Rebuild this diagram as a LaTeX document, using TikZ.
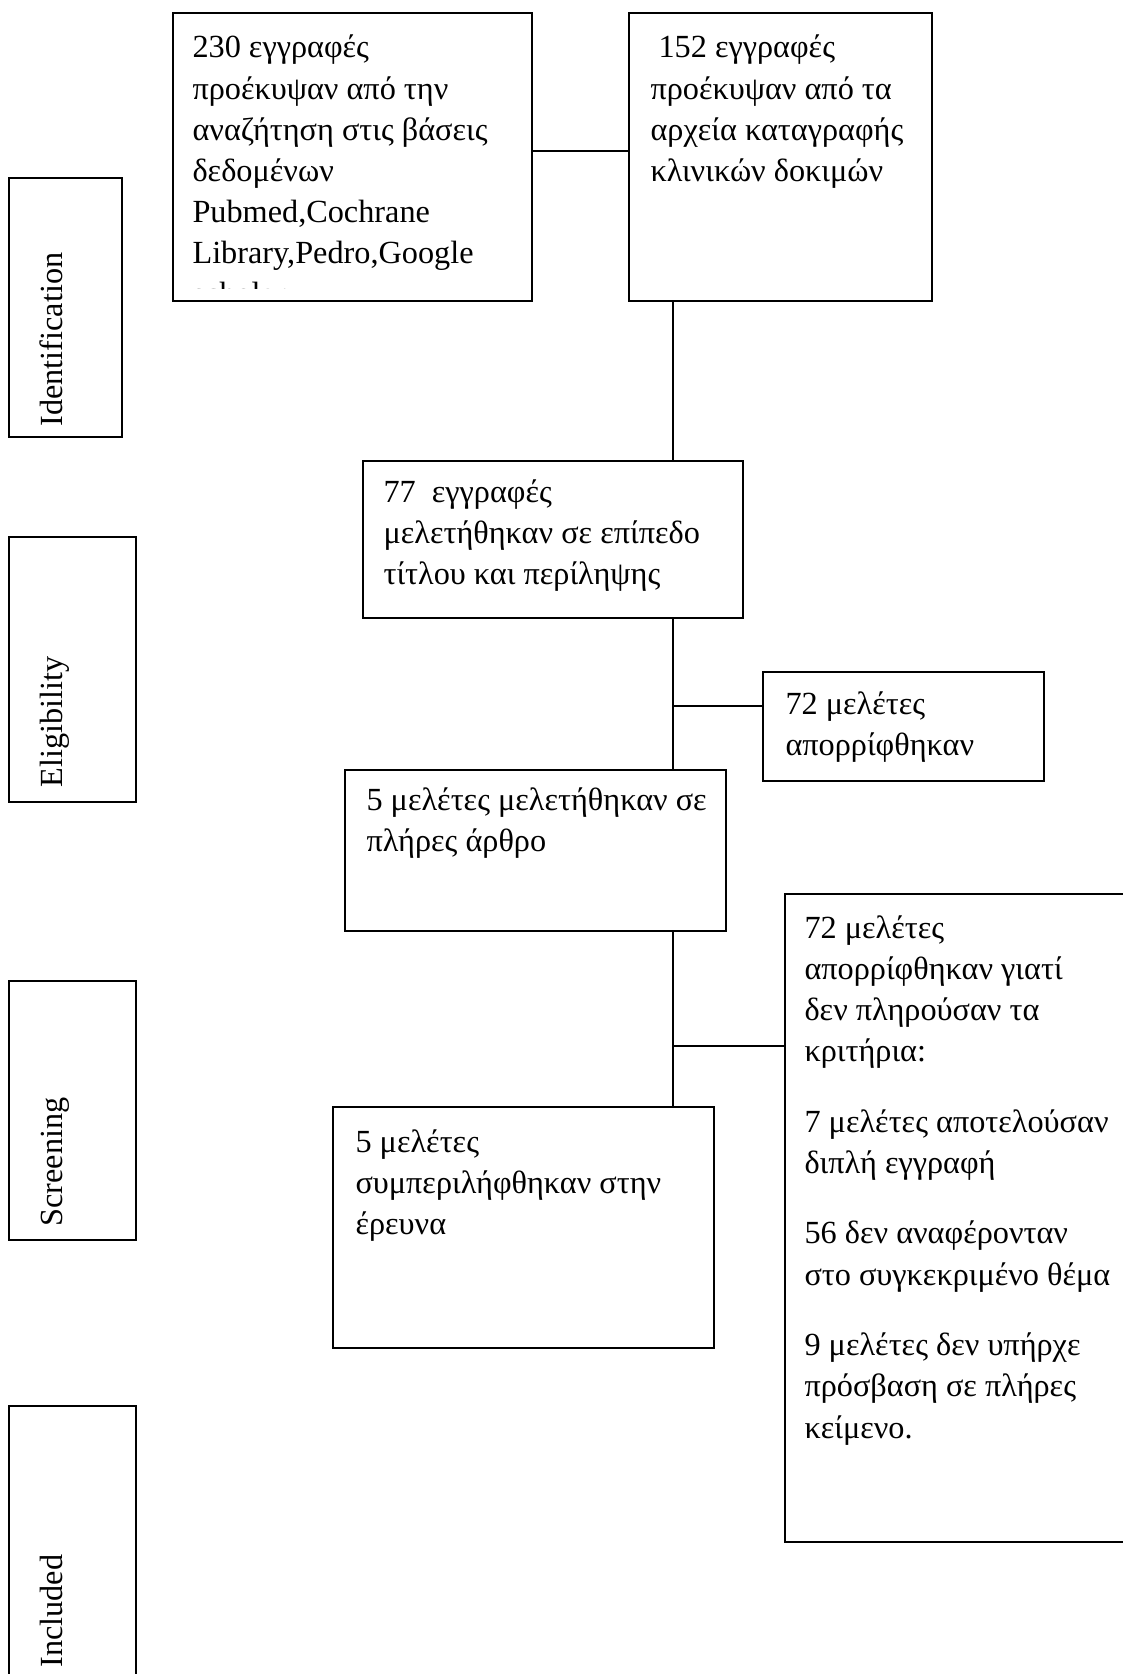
\documentclass[tikz,border=0pt]{standalone}
\usepackage{fontspec}
\setmainfont{Liberation Serif}
\usetikzlibrary{positioning,fit}

\newcommand{\rows}[1]{\begin{tabular}[t]{@{}l@{}}#1\end{tabular}}

\begin{document}
\begin{tikzpicture}[x=0.372pt, y=-0.372pt,
  box/.style={draw, line width=0.75pt, inner sep=0pt},
  stage/.style={draw, line width=1.1pt, inner sep=0pt},
  txt/.style={anchor=base west, inner sep=0pt, font=\fontsize{12pt}{15.3pt}\selectfont},
  tag/.style={anchor=base west, inner sep=0pt, rotate=90, font=\fontsize{12pt}{15pt}\selectfont},
  link/.style={line width=0.75pt}]
\useasboundingbox (0,0) rectangle (1122,1674);

% stages on the left
\node[stage, fit={(9,178) (122,437)}] (ident) {};
\node[stage, fit={(9,537) (136,802)}] (elig) {};
\node[stage, fit={(9,981) (136,1240)}] (screen) {};
\node[stage, fit={(9,1406) (136,1690)}] (incl) {};
\node[tag] (identtxt) at (62,427) {Identification};
\node[tag] (eligtxt) at (62,788) {Eligibility};
\node[tag] (screentxt) at (62,1227) {Screening};
\node[tag] (incltxt) at (62,1668) {Included};

% boxes
\node[box, fit={(173,13) (532,301)}] (b230) {};
\node[box, fit={(629,13) (932,301)}] (b152) {};
\node[box, fit={(363,461) (743,618)}] (b77) {};
\node[box, fit={(763,672) (1044,781)}] (b72) {};
\node[box, fit={(345,770) (726,931)}] (b5full) {};
\node[box, fit={(333,1107) (714,1348)}] (b5inc) {};
\node[box, fit={(785,894) (1140,1542)}] (bwhy) {};

\begin{scope}
\clip (173,13) rectangle (532,289);
\node[txt] (t230) at (192,58) {\rows{230 εγγραφές\\προέκυψαν από την\\αναζήτηση στις βάσεις\\δεδομένων\\Pubmed,Cochrane\\Library,Pedro,Google\\scholar}};
\end{scope}
\node[txt] (t152) at (650,58) {\rows{\ 152 εγγραφές\\προέκυψαν από τα\\αρχεία καταγραφής\\κλινικών δοκιμών}};
\node[txt] (t77) at (383,502) {\rows{77~~εγγραφές\\μελετήθηκαν σε επίπεδο\\τίτλου και περίληψης}};
\node[txt] (t72) at (785,714) {\rows{72 μελέτες\\απορρίφθηκαν}};
\node[txt] (t5full) at (366,810) {\rows{5 μελέτες μελετήθηκαν σε\\πλήρες άρθρο}};
\node[txt] (t5inc) at (355,1152) {\rows{5 μελέτες\\συμπεριλήφθηκαν στην\\έρευνα}};
\node[txt] (twhy) at (804,938) {\rows{72 μελέτες\\απορρίφθηκαν γιατί\\δεν πληρούσαν τα\\κριτήρια:\\[11pt]7 μελέτες αποτελούσαν\\διπλή εγγραφή\\[11pt]56 δεν αναφέρονταν\\στο συγκεκριμένο θέμα\\[11pt]9 μελέτες δεν υπήρχε\\πρόσβαση σε πλήρες\\κείμενο.}};

% connectors
\coordinate (trunk) at (673,0);
\coordinate (j1) at (673,706);
\coordinate (j2) at (673,1046);
\draw[link] (b230.east |- 0,151) -- (b152.west |- 0,151);
\draw[link] (b152.south -| trunk) -- (b77.north -| trunk);
\draw[link] (b77.south -| trunk) -- (b5full.north -| trunk);
\draw[link] (j1) -- (j1 -| b72.west);
\draw[link] (b5full.south -| trunk) -- (b5inc.north -| trunk);
\draw[link] (j2) -- (j2 -| bwhy.west);
\end{tikzpicture}
\end{document}
